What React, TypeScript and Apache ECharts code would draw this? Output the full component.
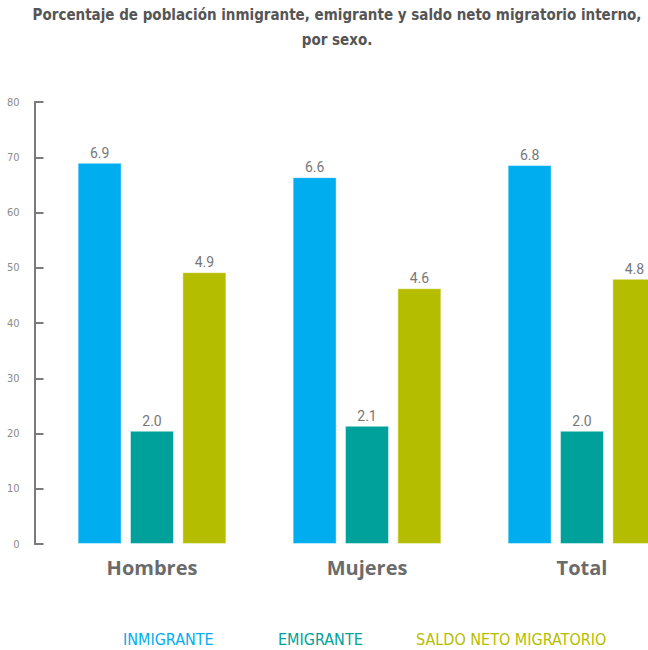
import React, { useEffect, useRef } from "react";
import * as echarts from "echarts";

const categories = ["Hombres", "Mujeres", "Total"];
const seriesNames = ["INMIGRANTE", "EMIGRANTE", "SALDO NETO MIGRATORIO"];
const colors = ["#00AEEF", "#00A19A", "#B5BD00"];
// bar heights on the 0–80 axis, as drawn
const inmigrante = [69.0, 66.4, 68.6];
const emigrante = [20.5, 21.4, 20.5];
const saldo = [49.2, 46.3, 48.0];
// printed value labels
const inmigranteLabels = ["6.9", "6.6", "6.8"];
const emigranteLabels = ["2.0", "2.1", "2.0"];
const saldoLabels = ["4.9", "4.6", "4.8"];
const yTicks = [0, 10, 20, 30, 40, 50, 60, 70, 80];

const titleLine1 = "Porcentaje de población inmigrante, emigrante y saldo neto migratorio interno,";
const titleLine2 = "por sexo.";

export default function App() {
  const ref = useRef<HTMLDivElement>(null);
  useEffect(() => {
    if (!ref.current) return;
    const chart = echarts.init(ref.current, null, { renderer: "svg" });
    const values = [inmigrante, emigrante, saldo];
    const labels = [inmigranteLabels, emigranteLabels, saldoLabels];
    const condensed = "'DejaVu Sans Condensed', 'Liberation Sans Narrow', sans-serif";
    const legendLefts = [117, 272, 410];
    chart.setOption({
      animation: false,
      backgroundColor: "#ffffff",
      title: {
        text: titleLine1 + "\n" + titleLine2,
        left: 332,
        textAlign: "center",
        top: -3,
        textStyle: {
          fontFamily: condensed,
          fontWeight: "bold",
          fontSize: 15,
          color: "#555555",
          lineHeight: 25,
        },
      },
      legend: seriesNames.map((n, i) => ({
        data: [{ name: n, textStyle: { color: colors[i] } }],
        left: legendLefts[i] - 5,
        top: 626,
        itemWidth: 0,
        itemHeight: 0,
        selectedMode: false,
        textStyle: { fontFamily: condensed, fontSize: 16 },
      })),
      grid: { left: 44.5, right: 0.5, top: 102, bottom: 106, containLabel: false },
      xAxis: {
        type: "category",
        data: categories,
        axisLine: { show: false },
        axisTick: { show: false },
        axisLabel: {
          margin: 13,
          fontSize: 20,
          fontWeight: "bold",
          color: "#6b6b6b",
          fontFamily: "'Open Sans', sans-serif",
        },
      },
      yAxis: {
        type: "value",
        min: 0,
        max: 80,
        interval: 10,
        offset: 10,
        splitLine: { show: false },
        axisLine: { show: true, lineStyle: { color: "#7a7a7a", width: 2 } },
        axisTick: { show: true, inside: true, length: 9, lineStyle: { color: "#7a7a7a", width: 2 } },
        axisLabel: {
          margin: 15,
          fontSize: 11,
          color: "#8a8a8a",
          fontFamily: "'DejaVu Sans Condensed', sans-serif",
          formatter: (v: number) => (yTicks.includes(v) ? String(v) : ""),
        },
      },
      series: seriesNames.map((name, i) => ({
        name,
        type: "bar",
        barWidth: 44,
        barGap: "19%",
        data: values[i],
        itemStyle: { color: colors[i], borderColor: "rgba(255,255,255,0.45)", borderWidth: 1 },
        label: {
          show: true,
          position: "top",
          distance: 3,
          fontSize: 14,
          color: "#777777",
          fontFamily: "Roboto, sans-serif",
          formatter: (p: any) => labels[i][p.dataIndex],
        },
      })),
    });
    return () => chart.dispose();
  }, []);
  return (
    <div
      ref={ref}
      style={{ position: "fixed", left: 0, top: 0, width: 690, height: 650 }}
    />
  );
}
